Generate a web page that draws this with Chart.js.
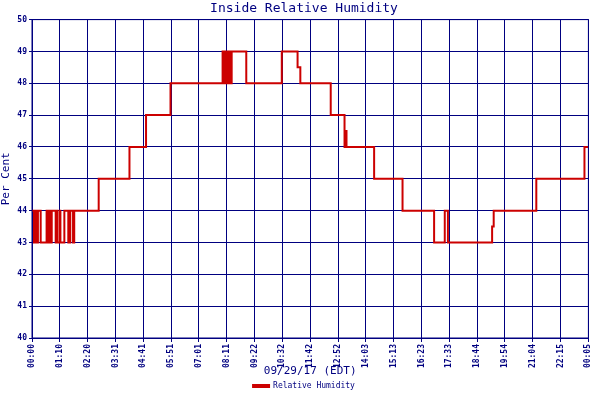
<!DOCTYPE html>
<html>
<head>
<meta charset="utf-8">
<script src="https://cdn.jsdelivr.net/npm/chart.js@4"></script>
<style>
  body { margin: 0; background: #fff; }
  #wrap { width: 600px; height: 400px; }
</style>
</head>
<body>
<div id="wrap"><canvas id="humChart"></canvas></div>
<script>
const tickLabels = ['00:00', '01:10', '02:20', '03:31', '04:41', '05:51', '07:01', '08:11', '09:22', '10:32',
  '11:42', '12:52', '14:03', '15:13', '16:23', '17:33', '18:44', '19:54', '21:04', '22:15', '00:05'];
// minutes since midnight where the reading changes
const times = [0, 5, 8, 12, 15, 22, 37, 40, 42, 45, 50, 60, 62, 64, 70, 72, 82, 92, 97, 104, 107,
  169, 247, 289, 351, 483, 488, 491, 495, 498, 503, 506, 543, 633, 673, 680, 757, 792, 794, 797,
  867, 939, 1019, 1046, 1054, 1166, 1170, 1278, 1400, 1410];
const humidity = [44, 43, 44, 43, 44, 43, 44, 43, 44, 43, 44, 43, 44, 43, 44, 43, 44, 43, 44, 43, 44,
  45, 46, 47, 48, 49, 48, 49, 48, 49, 48, 49, 48, 49, 48.5, 48, 47, 46, 46.5, 46,
  45, 44, 43, 44, 43, 43.5, 44, 45, 46, 46];

const STEP = 70.5;
const navy = '#000080';
const mono = 'DejaVu Sans Mono';

const ctx = document.getElementById('humChart');

new Chart(ctx, {
  type: 'line',
  data: {
    datasets: [{
      label: 'Relative Humidity',
      data: times.map((t, i) => ({ x: t, y: humidity[i] })),
      borderColor: '#cc0000',
      backgroundColor: '#cc0000',
      borderWidth: 2,
      pointRadius: 0,
      stepped: 'before',
    }],
  },
  options: {
    responsive: true,
    maintainAspectRatio: false,
    animation: false,
    layout: { padding: { right: -8, left: 0 } },
    plugins: {
      title: {
        display: true,
        text: 'Inside Relative Humidity',
        color: navy,
        font: { family: mono, size: 13, weight: 'normal' },
        padding: { top: 1, bottom: 3 },
      },
      legend: {
        position: 'bottom',
        labels: {
          color: navy,
          font: { family: mono, size: 8 },
          boxWidth: 16,
          boxHeight: 2,
          padding: 4,
        },
      },
      tooltip: { enabled: false },
    },
    scales: {
      x: {
        type: 'linear',
        min: 0,
        max: STEP * 20,
        afterBuildTicks: axis => {
          axis.ticks = tickLabels.map((_, i) => ({ value: i * STEP }));
        },
        afterFit: axis => { axis.height = 40; },
        ticks: {
          color: navy,
          font: { family: mono, size: 8, weight: 'bold' },
          minRotation: 90,
          maxRotation: 90,
          autoSkip: false,
          padding: 2,
          callback: (v, i) => tickLabels[i],
        },
        grid: { color: navy, lineWidth: 1, tickLength: 4 },
        border: { color: navy, width: 1 },
        title: {
          display: true,
          text: '09/29/17 (EDT)',
          color: navy,
          font: { family: mono, size: 11 },
          padding: { top: 2, bottom: 0 },
        },
      },
      y: {
        min: 40,
        max: 50,
        afterFit: axis => { axis.width = 32; },
        ticks: {
          stepSize: 1,
          color: navy,
          font: { family: mono, size: 8, weight: 'bold' },
          padding: 2,
        },
        grid: { color: navy, lineWidth: 1, tickLength: 3 },
        border: { color: navy, width: 1 },
        title: {
          display: true,
          text: 'Per Cent',
          color: navy,
          font: { family: mono, size: 11 },
          padding: 0,
        },
      },
    },
  },
  plugins: [{
    id: 'frame',
    afterDraw: chart => {
      const { ctx: c, chartArea: a } = chart;
      c.save();
      c.strokeStyle = navy;
      c.lineWidth = 1;
      c.strokeRect(a.left, a.top, a.right - a.left, a.bottom - a.top);
      c.restore();
    },
  }],
});
</script>
</body>
</html>
